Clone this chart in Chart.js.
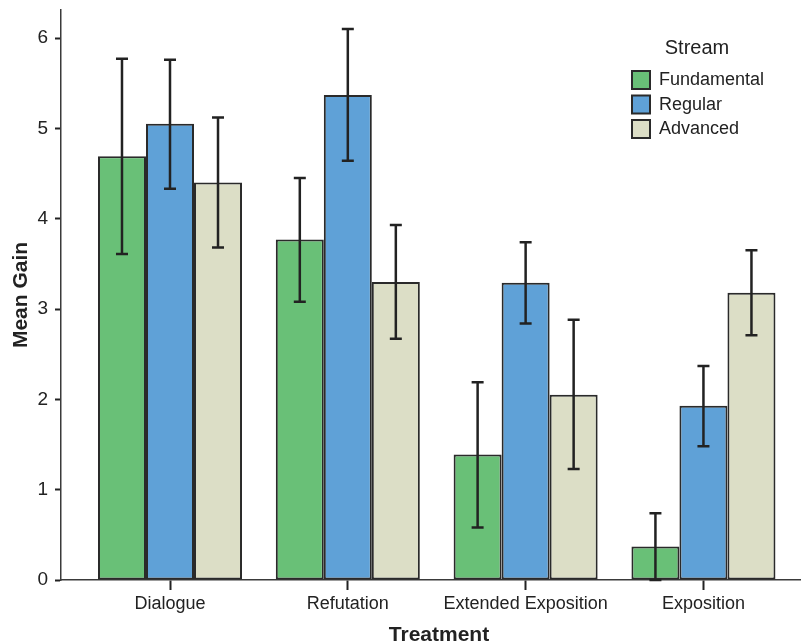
<!DOCTYPE html>
<html><head><meta charset="utf-8">
<script src="https://cdn.jsdelivr.net/npm/chart.js@4.4.0/dist/chart.umd.min.js"></script>
<style>html,body{margin:0;padding:0;background:#fff}#wrap{width:801px;height:644px;position:relative}</style>
</head><body><div id="wrap"><canvas id="c"></canvas></div>
<script>
const categories = ['Dialogue', 'Refutation', 'Extended Exposition', 'Exposition'];
const streams = ['Fundamental', 'Regular', 'Advanced'];
const fundamentalMean = [4.69, 3.77, 1.39, 0.37];
const fundamentalLow  = [3.61, 3.08, 0.58, 0.00];
const fundamentalHigh = [5.77, 4.45, 2.19, 0.74];
const regularMean = [5.05, 5.37, 3.29, 1.93];
const regularLow  = [4.33, 4.64, 2.84, 1.48];
const regularHigh = [5.76, 6.10, 3.74, 2.37];
const advancedMean = [4.40, 3.30, 2.05, 3.18];
const advancedLow  = [3.68, 2.67, 1.23, 2.71];
const advancedHigh = [5.12, 3.93, 2.88, 3.65];
const yTickValues = [0, 1, 2, 3, 4, 5, 6];
const xTitle = 'Treatment';
const yTitle = 'Mean Gain';
const legendTitle = 'Stream';

const fills = ['#69c077', '#5fa1d7', '#dcdec6'];
const means = [fundamentalMean, regularMean, advancedMean];
const lows = [fundamentalLow, regularLow, advancedLow];
const highs = [fundamentalHigh, regularHigh, advancedHigh];
const FONT = '"Liberation Sans", Arial, Helvetica, sans-serif';
const INK = '#222222';

const datasets = streams.map((s, k) => ({
  label: s,
  data: means[k].map((v, i) => ({x: i, y: v})),
  low: lows[k],
  high: highs[k],
  backgroundColor: fills[k],
  borderColor: '#2a2a2a',
  borderWidth: 2,
  borderSkipped: false,
  categoryPercentage: 0.81,
  barPercentage: 1.0
}));

const errorBars = {
  id: 'errorBars',
  afterDatasetsDraw(chart) {
    const ctx = chart.ctx, y = chart.scales.y;
    ctx.save();
    ctx.strokeStyle = INK;
    ctx.lineWidth = 2.5;
    chart.data.datasets.forEach((ds, k) => {
      const meta = chart.getDatasetMeta(k);
      meta.data.forEach((bar, i) => {
        const x = bar.x;
        const yl = y.getPixelForValue(ds.low[i]);
        const yh = y.getPixelForValue(ds.high[i]);
        ctx.beginPath();
        ctx.moveTo(x, yl); ctx.lineTo(x, yh);
        ctx.moveTo(x - 6, yh); ctx.lineTo(x + 6, yh);
        ctx.moveTo(x - 6, yl); ctx.lineTo(x + 6, yl);
        ctx.stroke();
      });
    });
    ctx.restore();
  }
};

const customLegend = {
  id: 'customLegend',
  afterDraw(chart) {
    const ctx = chart.ctx;
    ctx.save();
    ctx.fillStyle = INK;
    ctx.textBaseline = 'middle';
    ctx.textAlign = 'center';
    ctx.font = '20px ' + FONT;
    ctx.fillText(legendTitle, 697, 48);
    ctx.font = '18px ' + FONT;
    ctx.textAlign = 'left';
    chart.data.datasets.forEach((ds, k) => {
      const top = 70 + k * 24.5;
      ctx.fillStyle = ds.backgroundColor;
      ctx.fillRect(632, top + 1, 18, 18);
      ctx.strokeStyle = '#2a2a2a';
      ctx.lineWidth = 2;
      ctx.strokeRect(632, top + 1, 18, 18);
      ctx.fillStyle = INK;
      ctx.fillText(ds.label, 659, top + 10.5);
    });
    // x axis title
    ctx.font = 'bold 21px ' + FONT;
    ctx.textAlign = 'center';
    ctx.textBaseline = 'alphabetic';
    ctx.fillText(xTitle, 439, 641);
    ctx.restore();
  }
};

new Chart(document.getElementById('c'), {
  type: 'bar',
  data: { datasets },
  options: {
    responsive: true,
    maintainAspectRatio: false,
    animation: false,
    devicePixelRatio: 1,
    layout: { padding: { top: 10, right: 1, bottom: 0, left: 0 } },
    plugins: { legend: { display: false }, tooltip: { enabled: false } },
    scales: {
      x: {
        type: 'linear',
        min: -0.613,
        max: 3.543,
        offset: false,
        afterBuildTicks: s => { s.ticks = categories.map((c, i) => ({ value: i })); },
        afterFit: s => { s.height = 64; s.paddingLeft = 0; s.paddingRight = 0; },
        ticks: {
          autoSkip: false,
          maxRotation: 0,
          padding: 3,
          color: INK,
          font: { family: FONT, size: 18 },
          callback: v => categories[v]
        },
        grid: { display: true, offset: false, drawOnChartArea: false, drawTicks: true, tickLength: 10, tickWidth: 2, tickColor: INK },
        border: { display: true, color: '#3a3a3a', width: 1.5 }
      },
      y: {
        type: 'linear',
        min: 0,
        max: 6.31,
        afterBuildTicks: s => { s.ticks = yTickValues.map(v => ({ value: v })); },
        afterFit: s => { s.width = 61; s.paddingTop = 0; s.paddingBottom = 0; },
        ticks: {
          padding: 7,
          color: INK,
          font: { family: FONT, size: 19 }
        },
        grid: { display: true, offset: false, drawOnChartArea: false, drawTicks: true, tickLength: 6, tickWidth: 2, tickColor: INK },
        border: { display: true, color: '#3a3a3a', width: 1.5 },
        title: {
          display: true,
          text: yTitle,
          color: INK,
          font: { family: FONT, size: 21, weight: 'bold' },
          padding: { top: 9, bottom: 0 }
        }
      }
    }
  },
  plugins: [errorBars, customLegend]
});
</script>
</body></html>
